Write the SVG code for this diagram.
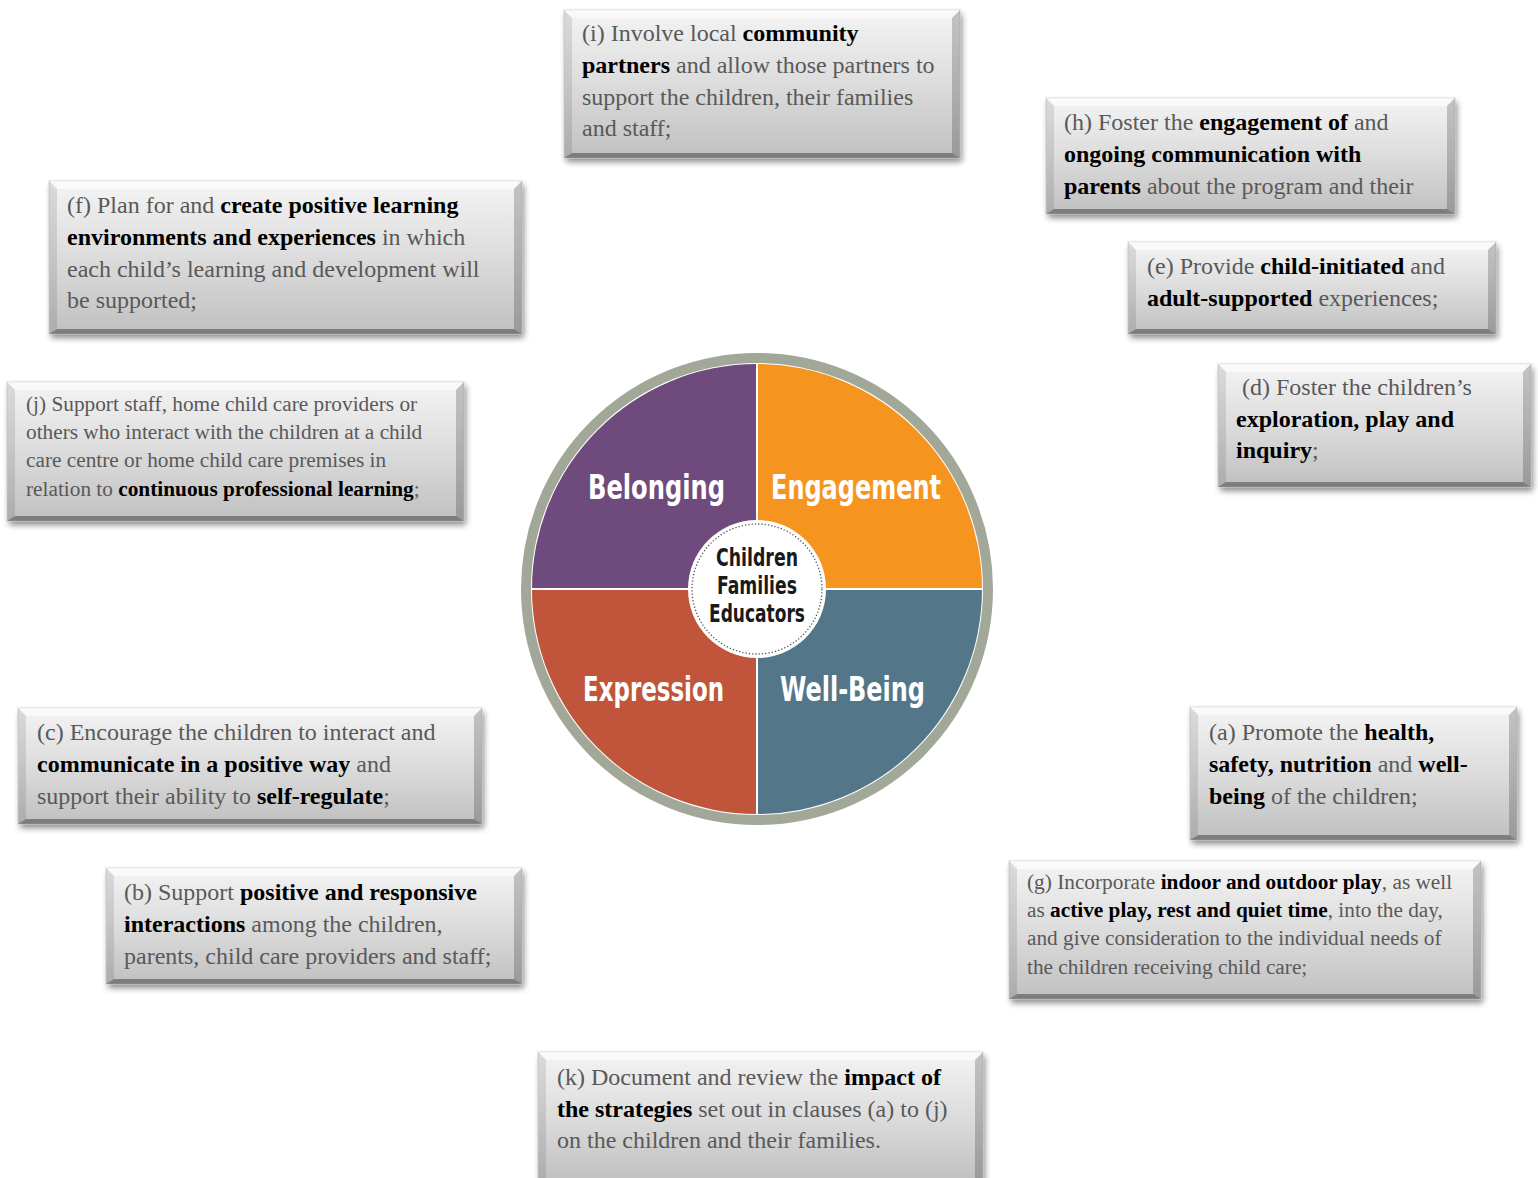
<svg xmlns="http://www.w3.org/2000/svg" width="1538" height="1178" viewBox="0 0 1538 1178">
  <defs>
    <linearGradient id="boxFill" x1="0" y1="0" x2="0" y2="1">
      <stop offset="0" stop-color="#f4f4f4"/>
      <stop offset="0.5" stop-color="#dcdcdc"/>
      <stop offset="1" stop-color="#c0c0c0"/>
    </linearGradient>
    <filter id="shadow" x="-10%" y="-20%" width="120%" height="150%">
      <feGaussianBlur stdDeviation="3"/>
    </filter>
    <style>
      .t { font-family: "Liberation Serif", "Times New Roman", serif; font-size: 24px; fill: #595959; }
      .s { font-size: 21.3px; }
      .b { font-weight: bold; fill: #000; }
      .box { fill: url(#boxFill); stroke: #d8d8d8; stroke-width: 1; }
      .sh { fill: #000; opacity: 0.45; filter: url(#shadow); }
      .bt { fill: #fff; opacity: 0.55; }
      .bl { fill: #000; opacity: 0.10; }
      .br { fill: #000; opacity: 0.20; }
      .bb { fill: #000; opacity: 0.35; }
      .q { font-family: "DejaVu Sans Condensed", "DejaVu Sans", sans-serif; font-stretch: condensed; font-weight: bold; font-size: 34px; fill: #fff; }
      .c { font-family: "DejaVu Sans Condensed", "DejaVu Sans", sans-serif; font-stretch: condensed; font-weight: bold; font-size: 24px; fill: #1a1a1a; text-anchor: middle; }
    </style>
  </defs>

  <rect width="1538" height="1178" fill="#fff"/>

  <!-- central wheel -->
  <g id="wheel">
    <circle cx="757" cy="589" r="231" fill="#fff" stroke="#a1a898" stroke-width="10"/>
    <path d="M757,589 L757,364 A225,225 0 0 0 532,589 Z" fill="#6f4b7d"/>
    <path d="M757,589 L982,589 A225,225 0 0 0 757,364 Z" fill="#f5951f"/>
    <path d="M757,589 L532,589 A225,225 0 0 0 757,814 Z" fill="#c0553b"/>
    <path d="M757,589 L757,814 A225,225 0 0 0 982,589 Z" fill="#537689"/>
    <line x1="757" y1="364" x2="757" y2="814" stroke="#fff" stroke-width="2"/>
    <line x1="532" y1="589" x2="982" y2="589" stroke="#fff" stroke-width="2"/>
    <text class="q" x="588" y="499" textLength="137" lengthAdjust="spacingAndGlyphs">Belonging</text>
    <text class="q" x="771" y="499" textLength="170" lengthAdjust="spacingAndGlyphs">Engagement</text>
    <text class="q" x="583" y="701" textLength="141" lengthAdjust="spacingAndGlyphs">Expression</text>
    <text class="q" x="780" y="701" textLength="145" lengthAdjust="spacingAndGlyphs">Well-Being</text>
    <circle cx="757" cy="589" r="69" fill="#fff"/>
    <circle cx="757" cy="589" r="65" fill="none" stroke="#555" stroke-width="1.3" stroke-dasharray="1.3 2"/>
    <text class="c" x="757" y="566" textLength="82" lengthAdjust="spacingAndGlyphs">Children</text>
    <text class="c" x="757" y="594" textLength="80" lengthAdjust="spacingAndGlyphs">Families</text>
    <text class="c" x="757" y="622" textLength="96" lengthAdjust="spacingAndGlyphs">Educators</text>
  </g>

  <!-- (i) x564 y10 w396 h148 -->
  <g id="box-i">
    <rect class="sh" x="566" y="14" width="396" height="148"/>
    <rect class="box" x="564" y="10" width="396" height="148"/>
    <polygon class="bt" points="564,10 960,10 952,18 572,18"/>
    <polygon class="bl" points="564,10 572,18 572,153 564,158"/>
    <polygon class="br" points="960,10 960,158 952,153 952,18"/>
    <polygon class="bb" points="564,158 572,153 952,153 960,158"/>
    <text class="t" x="582" y="41">(i) Involve local <tspan class="b">community</tspan></text>
    <text class="t" x="582" y="73"><tspan class="b">partners</tspan> and allow those partners to</text>
    <text class="t" x="582" y="105">support the children, their families</text>
    <text class="t" x="582" y="136">and staff;</text>
  </g>

  <!-- (h) x1046 y98 w409 h116 -->
  <g id="box-h">
    <rect class="sh" x="1048" y="102" width="409" height="116"/>
    <rect class="box" x="1046" y="98" width="409" height="116"/>
    <polygon class="bt" points="1046,98 1455,98 1447,106 1054,106"/>
    <polygon class="bl" points="1046,98 1054,106 1054,209 1046,214"/>
    <polygon class="br" points="1455,98 1455,214 1447,209 1447,106"/>
    <polygon class="bb" points="1046,214 1054,209 1447,209 1455,214"/>
    <text class="t" x="1064" y="130">(h) Foster the <tspan class="b">engagement of</tspan> and</text>
    <text class="t" x="1064" y="162"><tspan class="b">ongoing communication with</tspan></text>
    <text class="t" x="1064" y="194"><tspan class="b">parents</tspan> about the program and their</text>
  </g>

  <!-- (f) x49 y181 w473 h153 -->
  <g id="box-f">
    <rect class="sh" x="51" y="185" width="473" height="153"/>
    <rect class="box" x="49" y="181" width="473" height="153"/>
    <polygon class="bt" points="49,181 522,181 514,189 57,189"/>
    <polygon class="bl" points="49,181 57,189 57,329 49,334"/>
    <polygon class="br" points="522,181 522,334 514,329 514,189"/>
    <polygon class="bb" points="49,334 57,329 514,329 522,334"/>
    <text class="t" x="67" y="213">(f) Plan for and <tspan class="b">create positive learning</tspan></text>
    <text class="t" x="67" y="245"><tspan class="b">environments and experiences</tspan> in which</text>
    <text class="t" x="67" y="277">each child’s learning and development will</text>
    <text class="t" x="67" y="308">be supported;</text>
  </g>

  <!-- (e) x1128 y242 w368 h92 -->
  <g id="box-e">
    <rect class="sh" x="1130" y="246" width="368" height="92"/>
    <rect class="box" x="1128" y="242" width="368" height="92"/>
    <polygon class="bt" points="1128,242 1496,242 1488,250 1136,250"/>
    <polygon class="bl" points="1128,242 1136,250 1136,329 1128,334"/>
    <polygon class="br" points="1496,242 1496,334 1488,329 1488,250"/>
    <polygon class="bb" points="1128,334 1136,329 1488,329 1496,334"/>
    <text class="t" x="1147" y="274">(e) Provide <tspan class="b">child-initiated</tspan> and</text>
    <text class="t" x="1147" y="306"><tspan class="b">adult-supported</tspan> experiences;</text>
  </g>

  <!-- (d) x1218 y364 w313 h123 -->
  <g id="box-d">
    <rect class="sh" x="1220" y="368" width="313" height="123"/>
    <rect class="box" x="1218" y="364" width="313" height="123"/>
    <polygon class="bt" points="1218,364 1531,364 1523,372 1226,372"/>
    <polygon class="bl" points="1218,364 1226,372 1226,482 1218,487"/>
    <polygon class="br" points="1531,364 1531,487 1523,482 1523,372"/>
    <polygon class="bb" points="1218,487 1226,482 1523,482 1531,487"/>
    <text class="t" x="1242" y="395">(d) Foster the children’s</text>
    <text class="t" x="1236" y="427"><tspan class="b">exploration, play and</tspan></text>
    <text class="t" x="1236" y="458"><tspan class="b">inquiry</tspan>;</text>
  </g>

  <!-- (j) x7 y382 w457 h139 -->
  <g id="box-j">
    <rect class="sh" x="9" y="386" width="457" height="139"/>
    <rect class="box" x="7" y="382" width="457" height="139"/>
    <polygon class="bt" points="7,382 464,382 456,390 15,390"/>
    <polygon class="bl" points="7,382 15,390 15,516 7,521"/>
    <polygon class="br" points="464,382 464,521 456,516 456,390"/>
    <polygon class="bb" points="7,521 15,516 456,516 464,521"/>
    <text class="t s" x="26" y="411">(j) Support staff, home child care providers or</text>
    <text class="t s" x="26" y="439">others who interact with the children at a child</text>
    <text class="t s" x="26" y="467">care centre or home child care premises in</text>
    <text class="t s" x="26" y="496">relation to <tspan class="b">continuous professional learning</tspan>;</text>
  </g>

  <!-- (c) x18 y708 w464 h116 -->
  <g id="box-c">
    <rect class="sh" x="20" y="712" width="464" height="116"/>
    <rect class="box" x="18" y="708" width="464" height="116"/>
    <polygon class="bt" points="18,708 482,708 474,716 26,716"/>
    <polygon class="bl" points="18,708 26,716 26,819 18,824"/>
    <polygon class="br" points="482,708 482,824 474,819 474,716"/>
    <polygon class="bb" points="18,824 26,819 474,819 482,824"/>
    <text class="t" x="37" y="740">(c) Encourage the children to interact and</text>
    <text class="t" x="37" y="772"><tspan class="b">communicate in a positive way</tspan> and</text>
    <text class="t" x="37" y="804">support their ability to <tspan class="b">self-regulate</tspan>;</text>
  </g>

  <!-- (a) x1190 y707 w327 h133 -->
  <g id="box-a">
    <rect class="sh" x="1192" y="711" width="327" height="133"/>
    <rect class="box" x="1190" y="707" width="327" height="133"/>
    <polygon class="bt" points="1190,707 1517,707 1509,715 1198,715"/>
    <polygon class="bl" points="1190,707 1198,715 1198,835 1190,840"/>
    <polygon class="br" points="1517,707 1517,840 1509,835 1509,715"/>
    <polygon class="bb" points="1190,840 1198,835 1509,835 1517,840"/>
    <text class="t" x="1209" y="740">(a) Promote the <tspan class="b">health,</tspan></text>
    <text class="t" x="1209" y="772"><tspan class="b">safety, nutrition</tspan> and <tspan class="b">well-</tspan></text>
    <text class="t" x="1209" y="804"><tspan class="b">being</tspan> of the children;</text>
  </g>

  <!-- (b) x106 y868 w416 h116 -->
  <g id="box-b">
    <rect class="sh" x="108" y="872" width="416" height="116"/>
    <rect class="box" x="106" y="868" width="416" height="116"/>
    <polygon class="bt" points="106,868 522,868 514,876 114,876"/>
    <polygon class="bl" points="106,868 114,876 114,979 106,984"/>
    <polygon class="br" points="522,868 522,984 514,979 514,876"/>
    <polygon class="bb" points="106,984 114,979 514,979 522,984"/>
    <text class="t" x="124" y="900">(b) Support <tspan class="b">positive and responsive</tspan></text>
    <text class="t" x="124" y="932"><tspan class="b">interactions</tspan> among the children,</text>
    <text class="t" x="124" y="964">parents, child care providers and staff;</text>
  </g>

  <!-- (g) x1009 y861 w472 h138 -->
  <g id="box-g">
    <rect class="sh" x="1011" y="865" width="472" height="138"/>
    <rect class="box" x="1009" y="861" width="472" height="138"/>
    <polygon class="bt" points="1009,861 1481,861 1473,869 1017,869"/>
    <polygon class="bl" points="1009,861 1017,869 1017,994 1009,999"/>
    <polygon class="br" points="1481,861 1481,999 1473,994 1473,869"/>
    <polygon class="bb" points="1009,999 1017,994 1473,994 1481,999"/>
    <text class="t s" x="1027" y="889">(g) Incorporate <tspan class="b">indoor and outdoor play</tspan>, as well</text>
    <text class="t s" x="1027" y="917">as <tspan class="b">active play, rest and quiet time</tspan>, into the day,</text>
    <text class="t s" x="1027" y="945">and give consideration to the individual needs of</text>
    <text class="t s" x="1027" y="974">the children receiving child care;</text>
  </g>

  <!-- (k) x538 y1052 w445, runs off the bottom edge -->
  <g id="box-k">
    <rect class="sh" x="540" y="1056" width="445" height="130"/>
    <rect class="box" x="538" y="1052" width="445" height="130"/>
    <polygon class="bt" points="538,1052 983,1052 975,1060 546,1060"/>
    <polygon class="bl" points="538,1052 546,1060 546,1182 538,1182"/>
    <polygon class="br" points="983,1052 983,1182 975,1182 975,1060"/>
    <text class="t" x="557" y="1085">(k) Document and review the <tspan class="b">impact of</tspan></text>
    <text class="t" x="557" y="1117"><tspan class="b">the strategies</tspan> set out in clauses (a) to (j)</text>
    <text class="t" x="557" y="1148">on the children and their families.</text>
  </g>

  <!-- no connectors between nodes -->
  <g id="connectors"/>
</svg>
